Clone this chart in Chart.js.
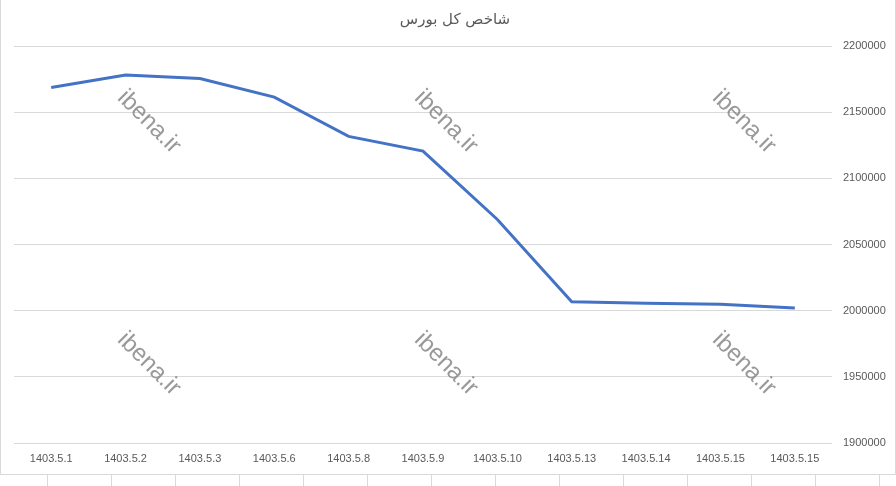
<!DOCTYPE html>
<html>
<head>
<meta charset="utf-8">
<script src="https://cdn.jsdelivr.net/npm/chart.js@4.4.1/dist/chart.umd.min.js"></script>
<style>
    html, body { margin: 0; padding: 0; background: #ffffff; }
    #wrap { position: relative; width: 896px; height: 486px; overflow: hidden; }
    /* chart frame and the sheet cells under it */
    #frame {
        position: absolute; left: 0; top: -1px; width: 894px; height: 474px;
        border: 1px solid #d9d9d9;
    }
    #cells {
        position: absolute; left: 0; top: 475px; width: 896px; height: 11px;
        background-image: linear-gradient(to right, #d9d9d9 1px, transparent 1px);
        background-size: 64px 100%;
        background-position: 47px 0;
        background-repeat: repeat-x;
    }
    canvas { position: absolute; left: 0; top: 0; }
</style>
</head>
<body>
<div id="wrap">
    <div id="frame"></div>
    <div id="cells"></div>
    <canvas id="indexChart" width="896" height="486"></canvas>
</div>
<script>
// ============================================
// Data
// ============================================

const chartTitle = 'شاخص کل بورس';

const dateLabels = [
    '1403.5.1', '1403.5.2', '1403.5.3', '1403.5.6', '1403.5.8', '1403.5.9',
    '1403.5.10', '1403.5.13', '1403.5.14', '1403.5.15', '1403.5.15'
];

const indexValues = [
    2168700, 2178000, 2175500, 2161400, 2131700, 2120600,
    2068900, 2006700, 2005600, 2004800, 2002100
];

const yMin = 1900000;
const yMax = 2200000;
const yStep = 50000;

const watermarkText = 'ibena.ir';

// ============================================
// Watermark plugin (drawn under the line)
// ============================================

const watermarkPlugin = {
    id: 'watermark',
    beforeDatasetsDraw(chart) {
        const ctx = chart.ctx;
        const cols = [149, 446, 744];
        const rows = [122, 364];
        ctx.save();
        ctx.font = '24px "Liberation Sans", Arial, sans-serif';
        ctx.fillStyle = 'rgba(128, 128, 128, 0.8)';
        ctx.textAlign = 'center';
        ctx.textBaseline = 'middle';
        rows.forEach(y => {
            cols.forEach(x => {
                ctx.save();
                ctx.translate(x, y);
                ctx.rotate(Math.PI / 4);
                ctx.fillText(watermarkText, 0, 0);
                ctx.restore();
            });
        });
        ctx.restore();
    }
};

// ============================================
// Chart
// ============================================

const ctx = document.getElementById('indexChart').getContext('2d');
const indexChart = new Chart(ctx, {
    type: 'line',
    data: {
        labels: dateLabels,
        datasets: [{
            label: chartTitle,
            data: indexValues,
            borderColor: '#4472c4',
            borderWidth: 3,
            pointRadius: 0,
            tension: 0,
            fill: false
        }]
    },
    options: {
        responsive: false,
        animation: false,
        layout: { padding: { left: 14, right: 0, top: 0, bottom: 0 } },
        plugins: {
            legend: { display: false },
            tooltip: { enabled: false },
            title: {
                display: true,
                text: chartTitle,
                color: '#595959',
                font: { family: '"DejaVu Sans", sans-serif', size: 15, weight: 'normal' },
                padding: { top: 11, bottom: 17 }
            }
        },
        scales: {
            x: {
                offset: true,
                grid: { display: false },
                border: { display: false },
                ticks: {
                    color: '#595959',
                    font: { family: '"Liberation Sans", Arial, sans-serif', size: 11 },
                    padding: 1,
                    maxRotation: 0,
                    autoSkip: false
                },
                afterFit(scale) { scale.height = 43; }
            },
            y: {
                position: 'right',
                min: yMin,
                max: yMax,
                grid: { color: '#d9d9d9', drawTicks: false },
                border: { display: false },
                ticks: {
                    stepSize: yStep,
                    color: '#595959',
                    font: { family: '"Liberation Sans", Arial, sans-serif', size: 11 },
                    padding: 11,
                    callback: v => String(v)
                },
                afterFit(scale) { scale.width = 64; }
            }
        }
    },
    plugins: [watermarkPlugin]
});
</script>
</body>
</html>
